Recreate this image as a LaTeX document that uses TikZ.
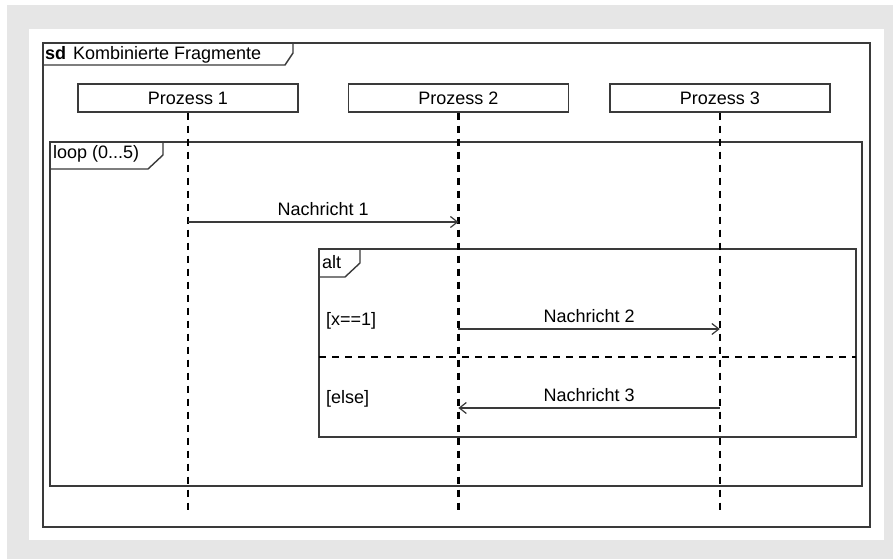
\documentclass[tikz,border=0pt]{standalone}
\usepackage{fontspec}
\setmainfont{Liberation Sans}
\usetikzlibrary{positioning}
\usetikzlibrary{arrows.meta}

\definecolor{panelgray}{HTML}{E6E6E6}
\definecolor{umlline}{HTML}{3A3A3A}

\tikzset{
  frame/.style={draw=umlline, line width=1.4pt},
  lifebox/.style={draw=umlline, line width=1.4pt, minimum width=220pt,
    minimum height=28pt, inner sep=0pt},
  lifeline/.style={black, line width=2.4pt, dash pattern=on 7pt off 6pt},
  msg/.style={umlline, line width=1.2pt,
    -{Straight Barb[length=7pt,width=11pt,line width=1.2pt]}},
  lbl/.style={inner sep=0pt, anchor=west},
  msglbl/.style={inner sep=0pt, above=6pt, text=black},
}

\begin{document}
\begin{tikzpicture}[x=1pt,y=-1pt,font=\fontsize{18}{21}\selectfont]
        % Background
        \useasboundingbox (0,0) rectangle (893,559);
        \fill[white] (0,0) rectangle (893,559);
        \fill[panelgray] (7,5) rectangle (893,559);
        \fill[white] (29,29) rectangle (884,540);

        % Frames
        \draw[frame] (43,43) rectangle (870,527);
        \draw[frame] (43,65) -- (285,65) -- (293,53) -- (293,43);
        \draw[frame] (50,142) rectangle (862,486);
        \draw[frame] (50,169) -- (148,169) -- (163,155) -- (163,142);
        \draw[frame] (319,249) rectangle (856,437);
        \draw[frame] (319,277) -- (345,277) -- (360,263) -- (360,249);
        \draw[lifeline] (319,357) -- (856,357);

        % Labels
        \node[lbl] (sd)   at (45,55)   {\textbf{sd}\hspace{7pt}Kombinierte Fragmente};
        \node[lbl] (loop) at (53,154)  {loop (0...5)};
        \node[lbl] (alt)  at (322,262) {alt};
        \node[lbl] (g1)   at (326,321) {[x==1]};
        \node[lbl] (g2)   at (326,399) {[else]};

        % Nodes
        \node[lifebox] (p1) at (188,98) {Prozess 1};
        \node[lifebox, right=49pt of p1] (p2) {Prozess 2};
        \node[lifebox, right=40pt of p2] (p3) {Prozess 3};
        \foreach \p in {p1,p2,p3}
          \draw[lifeline] (\p.south) -- (\p.south |- 0,513);

        % Messages
        \draw[msg] (p1 |- 0,222) -- node[msglbl] (m1) {Nachricht 1} (p2 |- 0,222);
        \draw[msg] (p2 |- 0,329) -- node[msglbl] (m2) {Nachricht 2} (p3 |- 0,329);
        \draw[msg] (p3 |- 0,408) -- node[msglbl] (m3) {Nachricht 3} (p2 |- 0,408);
    \end{tikzpicture}
\end{document}
